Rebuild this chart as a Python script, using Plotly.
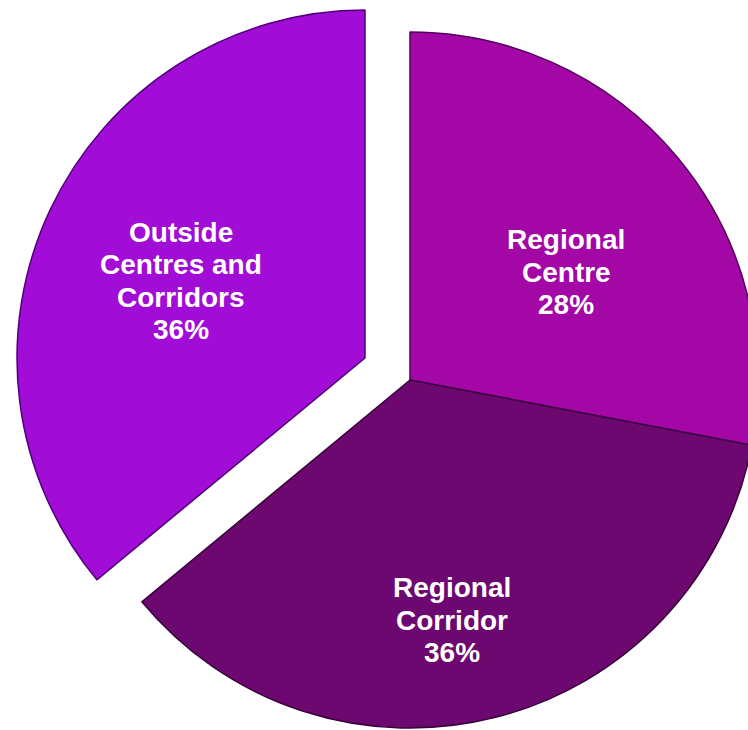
import plotly.graph_objects as go

# ---- data ----
categories = ["Regional Centre", "Regional Corridor", "Outside Centres and Corridors"]
display_labels = ["Regional<br>Centre", "Regional<br>Corridor", "Outside<br>Centres and<br>Corridors"]
shares = [28, 36, 36]

# ---- styles ----
slice_colors = ["#A307A6", "#6C0870", "#A10CD6"]
edge_colors = ["#55005C", "#38003C", "#50007A"]
W, H = 800, 760          # figure size; the 748x730 window shows its top-left part
OFF = 0                  # body margin set to 0 below
R = 348                  # pie radius in px

# page-pixel centres of the two pie pieces (main pie, pulled-out slice)
main_center = (410, 380)
pulled_center = (365, 358)
label_pos = [(566, 272), (452, 620), (181, 281)]
LINE_GAP = 32.5
FONT_SIZE = 28


def domain(px, py, r):
    cx, cy = px - OFF, py - OFF
    return dict(x=[(cx - r) / W, (cx + r) / W],
                y=[(H - cy - r) / H, (H - cy + r) / H])


def pie_piece(visible, dom):
    return go.Pie(
        labels=categories, values=shares, sort=False, direction="clockwise", rotation=0,
        marker=dict(colors=[c if v else "rgba(0,0,0,0)" for c, v in zip(slice_colors, visible)],
                    line=dict(color=[c if v else "rgba(0,0,0,0)" for c, v in zip(edge_colors, visible)],
                              width=1.5)),
        textinfo="none", hoverinfo="label+percent", showlegend=False, domain=dom,
    )


fig = go.Figure()
fig.add_trace(pie_piece([1, 1, 0], domain(*main_center, R)))
fig.add_trace(pie_piece([0, 0, 1], domain(*pulled_center, R)))

total = sum(shares)
for lab, val, (px, py) in zip(display_labels, shares, label_pos):
    lines = lab.split("<br>") + [f"{round(100 * val / total)}%"]
    n = len(lines)
    for i, line in enumerate(lines):
        ly = py + (i - (n - 1) / 2) * LINE_GAP
        fig.add_annotation(
            x=(px - OFF) / W, y=1 - (ly - OFF) / H, xref="paper", yref="paper",
            text=line, showarrow=False, align="center", xanchor="center", yanchor="middle",
            font=dict(family="Arial, Liberation Sans, sans-serif", size=FONT_SIZE,
                      color="white", weight="bold"),
        )

fig.update_layout(
    width=W, height=H,
    margin=dict(l=0, r=0, t=0, b=0),
    paper_bgcolor="white", plot_bgcolor="white",
    showlegend=False,
)

fig.write_html(
    "out.html",
    config={"displayModeBar": False},
    post_script="document.body.style.margin='0';document.body.style.overflow='hidden';",
)
